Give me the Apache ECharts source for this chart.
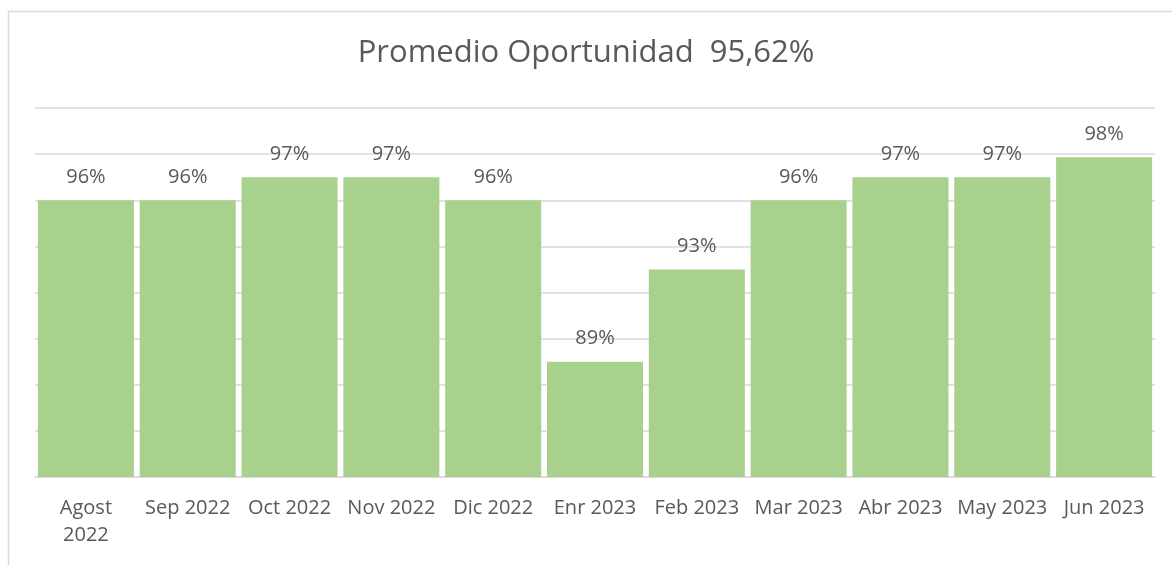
<!DOCTYPE html>
<html>
<head>
<meta charset="utf-8">
<script src="https://cdn.jsdelivr.net/npm/echarts@6/dist/echarts.min.js"></script>
<style>html,body{margin:0;padding:0;background:#fff;}#c{width:1172px;height:565px;}</style>
</head>
<body>
<div id="c"></div>
<script>
var titleText = 'Promedio Oportunidad  95,62%';
var categories = ['Agost\n2022','Sep 2022','Oct 2022','Nov 2022','Dic 2022','Enr 2023','Feb 2023','Mar 2023','Abr 2023','May 2023','Jun 2023'];
var values = [96.0, 96.0, 97.0, 97.0, 96.0, 89.0, 93.0, 96.0, 97.0, 97.0, 97.86];
var yMin = 84, yMax = 100, yStep = 2;

var FONT = 'Open Sans';
var chart = echarts.init(document.getElementById('c'), null, {renderer:'canvas'});
chart.setOption({
  animation: false,
  backgroundColor: '#ffffff',
  graphic: [{
    type: 'rect', left: 6, top: 9, silent: true,
    shape: {width: 1300, height: 700},
    style: {fill: 'none', stroke: '#d9d9d9', lineWidth: 1.5}
  }],
  title: {
    text: titleText, left: 'center', top: 33,
    textStyle: {fontFamily: FONT, fontSize: 31, fontWeight: 'normal', color: '#595959'}
  },
  grid: {left: 35, right: 17, top: 108, bottom: 88, containLabel: false},
  xAxis: {
    type: 'category', data: categories,
    axisLine: {lineStyle: {color: '#d9d9d9', width: 1.5}},
    axisTick: {show: false},
    axisLabel: {fontFamily: FONT, fontSize: 20, color: '#595959', margin: 18, lineHeight: 27, interval: 0}
  },
  yAxis: {
    type: 'value', min: yMin, max: yMax, interval: yStep,
    axisLabel: {show: false}, axisLine: {show: false}, axisTick: {show: false},
    splitLine: {lineStyle: {color: '#d9d9d9', width: 1.5}}
  },
  series: [{
    type: 'bar', data: values, barCategoryGap: '5.7%',
    itemStyle: {color: '#a9d18e'},
    label: {
      show: true, position: 'top', distance: 13,
      fontFamily: FONT, fontSize: 20, color: '#595959',
      formatter: function(p){ return Math.round(p.value) + '%'; }
    }
  }]
});
</script>
</body>
</html>
